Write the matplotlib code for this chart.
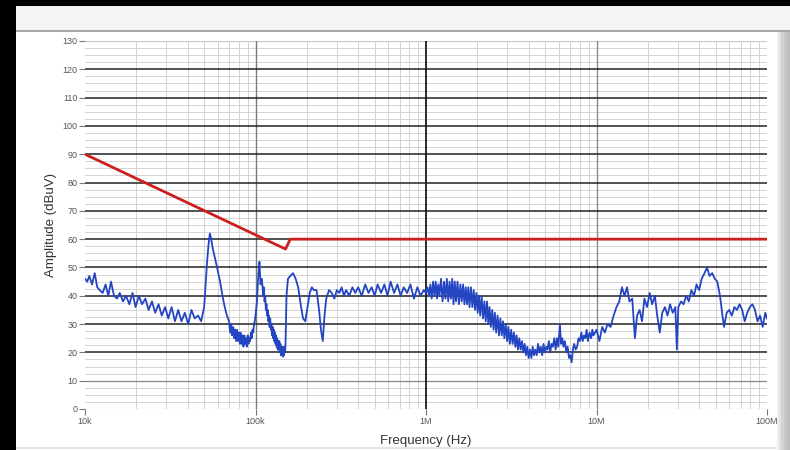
import matplotlib
matplotlib.use("Agg")
import matplotlib.pyplot as plt
from matplotlib.patches import Rectangle
import numpy as np

plt.rcParams['font.family'] = ['Liberation Sans', 'DejaVu Sans']

# ---- data -------------------------------------------------------------
freq_khz = [
    10, 10.3, 10.6, 11, 11.4, 11.8, 12.2, 12.7, 13.2, 13.7, 14.2, 14.8, 15.4, 16, 16.7,
    17.4, 18.2, 19, 19.8, 20.7, 21.6, 22.6, 23.6, 24.7, 25.8, 27, 28.2, 29.5, 30.8, 32.2,
    33.7, 35.2, 36.8, 38.5, 40.3, 42.1, 44, 46, 48, 50,
    51, 52, 53, 54, 55, 56, 57, 58.5, 60, 62, 64, 66, 68,
    70, 71, 72, 73, 74, 75, 76, 77, 78, 79, 80, 81, 82, 83, 84, 85, 86, 87, 88, 89,
    90, 91, 92, 93, 94, 95, 96, 97, 98, 99, 100, 102, 104, 105.5, 107, 109,
    111, 112, 113, 114, 115, 116, 117, 118, 119, 120, 121, 122, 123, 124, 125, 126, 127,
    128, 129, 130, 131, 132, 133, 134, 135, 136, 137, 138, 139, 140, 141, 142, 143, 144,
    145, 146, 147, 148, 149, 150,
    152, 155, 160, 166, 172, 178, 184, 190, 196, 202, 208, 214, 220, 228, 236, 242, 248,
    254, 260, 270, 280, 290, 300, 310, 320, 330,
    340, 355, 370, 385, 400, 420, 440, 460, 480, 500, 520, 545, 570, 595, 620, 650, 680,
    710, 740, 775, 810, 850, 890, 930, 970, 1000,
    1020, 1040, 1060, 1080, 1100, 1120, 1140, 1160, 1180, 1200, 1225, 1250, 1275, 1300,
    1325, 1350, 1375, 1400, 1425, 1450, 1475, 1500, 1530, 1560, 1590, 1620, 1650, 1680,
    1710, 1740, 1770, 1800, 1835, 1870, 1905, 1940, 1975, 2010, 2045, 2080, 2120, 2160,
    2200, 2240, 2280, 2320, 2360, 2400, 2445, 2490, 2535, 2580, 2630, 2680, 2730, 2780,
    2830, 2880, 2935, 2990, 3045, 3100, 3160, 3220, 3280, 3340, 3400, 3460, 3525, 3590,
    3655, 3720, 3790, 3860, 3930, 4000, 4075, 4150, 4225, 4300, 4380, 4460, 4540, 4620,
    4710, 4800, 4890, 4980, 5070, 5160, 5255, 5350, 5450, 5550, 5655, 5760, 5865, 5970,
    6100, 6200, 6300, 6400, 6520, 6650, 6770, 6900, 7020, 7150, 7270, 7400, 7550, 7700,
    7850, 8000, 8150, 8300, 8450, 8600, 8750, 8900, 9100, 9300, 9450, 9600, 9800, 10000,
    10400, 10800, 11200, 11600, 12100, 12600, 13100, 13600, 14100, 14600, 15100, 15600,
    16200, 16800, 17300, 17900, 18500, 19100, 19800, 20500, 21200, 22000, 22700, 23500,
    24300, 25200, 26100, 27000, 28000, 29000, 29600, 30200, 31300, 32400, 33600, 34800,
    36000, 37300, 38600, 40000, 41400, 43000, 44500, 46000, 47700, 49400, 51100, 53000,
    54800, 56000, 58000, 60000, 62200, 64400, 66700, 69000, 71500, 74000, 76600, 79300,
    82100, 85000, 88000, 91000, 94400, 97700, 100000,
]
amplitude_dbuv = [
    46, 45, 47, 44, 48, 43, 42, 41, 44, 40, 45, 40, 39, 41, 38,
    40, 37, 41, 36, 40, 37, 39, 35, 38, 34, 37, 33, 36, 32, 36,
    31, 35, 31, 34, 30, 35, 32, 33, 31, 36,
    44, 52, 58, 62, 60, 57, 55, 52, 49, 45, 40, 36, 33,
    31, 27, 30, 26, 29, 25, 28, 24, 28, 24, 27, 23, 27, 23, 26, 22, 26, 23, 25, 22,
    26, 23, 25, 24, 27, 25, 28, 27, 30, 31, 33, 38, 48, 52, 44, 46,
    40, 43, 38, 40, 35, 37, 33, 35, 31, 33, 29, 32, 28, 30, 26, 29, 25,
    28, 24, 27, 23, 26, 22, 25, 21, 24, 21, 24, 20, 23, 19, 22, 19, 22,
    18.5, 21, 19, 22, 20, 23,
    40, 46, 47, 48, 46, 43, 37, 32, 31, 36, 41, 43, 42, 42, 35, 28, 24,
    33, 39, 42, 41, 39, 42, 41, 43, 40,
    42, 40, 43, 41, 43, 40, 44, 41, 43, 40, 44, 41, 44, 40, 45, 41, 44,
    40, 43, 41, 44, 39, 43, 40, 42, 41,
    43, 40, 44, 39, 45, 40, 45, 39, 44, 40, 46, 38, 45, 39,
    46, 38, 45, 39, 46, 37, 45, 38, 45, 37, 44, 38, 44, 37,
    43, 37, 43, 36, 43, 36, 42, 35, 41, 34, 40, 33, 40, 32,
    38, 31, 38, 30, 36, 29, 35, 28, 34, 27, 33, 26, 32, 26,
    31, 25, 30, 24, 29, 23, 28, 23, 27, 22, 26, 21, 25, 21,
    24, 20, 23, 19, 22, 18, 21, 18, 22, 19, 21, 19, 23, 20,
    22, 19, 23, 20, 22, 21, 24, 20, 23, 22, 25, 21, 25, 22,
    30, 23, 25, 22, 24, 20, 22, 18, 19, 16.5, 21, 23, 21, 22,
    25, 24, 27, 24, 26, 25, 28, 24, 27, 25, 28, 26, 27, 28,
    24, 29, 27, 30, 29, 33, 36, 38, 43, 40, 43, 38,
    39, 25, 33, 35, 31, 39, 36, 41, 37, 40, 33, 27,
    34, 36, 33, 37, 34, 36, 21, 36, 38, 37, 40, 38,
    42, 40, 44, 42, 46, 48, 50, 47, 48, 46, 45, 40,
    33, 29, 34, 35, 33, 36, 35, 37, 35, 31, 34, 36,
    37, 35, 31, 33, 29, 34, 32,
]
limit_freq_khz = [10, 150, 160, 100000]
limit_dbuv = [90, 56.5, 60, 60]

y_ticks = list(range(0, 131, 10))
x_ticks_hz = [1e4, 1e5, 1e6, 1e7, 1e8]
x_tick_labels = ["10k", "100k", "1M", "10M", "100M"]

# ---- figure -----------------------------------------------------------
W, H = 790, 450
fig = plt.figure(figsize=(W / 100, H / 100), dpi=100)
fig.patch.set_facecolor('white')

def frect(x0, y0, x1, y1, **kw):
    fig.patches.append(Rectangle((x0 / W, 1 - y1 / H), (x1 - x0) / W, (y1 - y0) / H,
                                 transform=fig.transFigure, zorder=-5, **kw))

# window frame
frect(0, 0, W, 6, facecolor='black', edgecolor='none')
frect(0, 0, 16, H, facecolor='black', edgecolor='none')
frect(16, 6, W, 31, facecolor='#f4f4f4', edgecolor='none')
frect(16, 30, W, 32, facecolor='#a8a8a8', edgecolor='none')
for i, c in enumerate(['#f0f0f0', '#e2e2e2', '#d4d4d4', '#c8c8c8', '#c0c0c0', '#bcbcbc']):
    frect(777 + i * 2.2, 32, 777 + (i + 1) * 2.2, H, facecolor=c, edgecolor='none')
frect(16, 447, 777, 449, facecolor='#e4e4e4', edgecolor='none')

ax = fig.add_axes([85 / W, 1 - 409 / H, (767 - 85) / W, (409 - 41) / H])
ax.set_facecolor('white')
ax.set_xscale('log')
ax.set_xlim(1e4, 1e8)
ax.set_ylim(0, 130)

# grid
for v in np.arange(0, 130.1, 2.5):
    if v % 10 != 0:
        ax.axhline(v, color='#d4d4d4', lw=0.7, zorder=1)
for v in y_ticks:
    if v in (0, 130):
        ax.axhline(v, color='#c8c8c8', lw=0.8, zorder=1)
    elif v == 10:
        ax.axhline(v, color='#8a8a8a', lw=0.9, zorder=1.5)
    else:
        ax.axhline(v, color='#222222', lw=1.1, zorder=1.5)
for d in [1e4, 1e5, 1e6, 1e7]:
    for m in range(2, 10):
        ax.axvline(d * m, color='#d2d2d2', lw=0.7, zorder=1)
ax.axvline(1e5, color='#7a7a7a', lw=1.0, zorder=1.4)
ax.axvline(1e6, color='#1a1a1a', lw=1.3, zorder=1.6)
ax.axvline(1e7, color='#8a8a8a', lw=1.0, zorder=1.4)

# data
ax.plot(np.array(limit_freq_khz) * 1e3, limit_dbuv, color='#cc2020', lw=2.0, zorder=4)
ax.plot(np.array(freq_khz) * 1e3, amplitude_dbuv, color='#2445c2', lw=1.3, zorder=3)

# ticks
ax.set_yticks(y_ticks)
ax.set_yticklabels([str(v) for v in y_ticks])
ax.set_xticks(x_ticks_hz)
ax.set_xticklabels(x_tick_labels)
ax.xaxis.set_minor_locator(matplotlib.ticker.NullLocator())
ax.tick_params(axis='both', colors='#777777', labelcolor='#555555', labelsize=6.5,
               length=4, width=0.8, pad=1.5)
for s in ax.spines.values():
    s.set_visible(False)

ax.set_xlabel('Frequency (Hz)', fontsize=9.5, color='#333333', labelpad=7)
ax.set_ylabel('Amplitude (dBuV)', fontsize=9.5, color='#333333', labelpad=4)

fig.savefig('out.png', dpi=100, facecolor='white')
